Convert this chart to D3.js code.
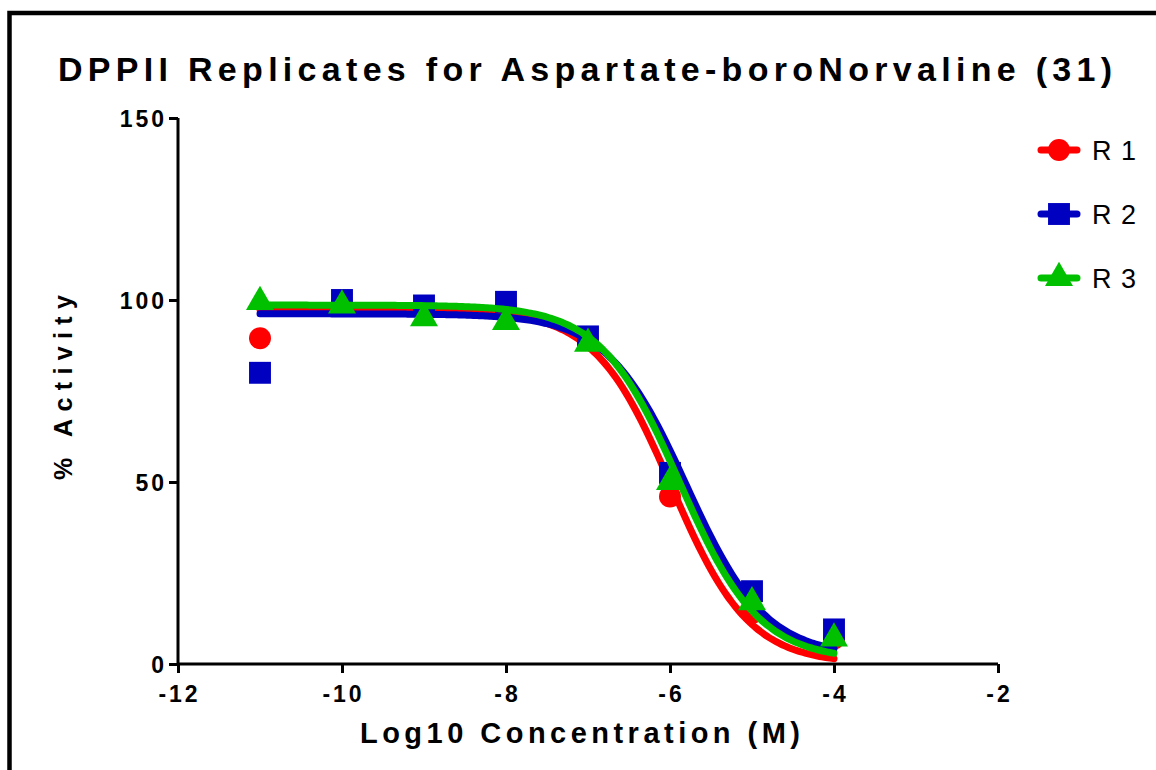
<!DOCTYPE html>
<meta charset="utf-8">
<title>DPPII Replicates</title>
<style>
body { margin: 0; background: white; }
svg text { font-family: 'Liberation Sans', Arial, sans-serif; fill: #000; }
</style>
<svg width="1156" height="770"></svg>
<script src="https://d3js.org/d3.v7.min.js"></script>
<script>
var logConc = [-11, -10, -9, -8, -7, -6, -5, -4];
var seriesNames = ["R 1", "R 2", "R 3"];
var seriesColors = ["#ff0000", "#0000c0", "#00c000"];
var r1 = [89.5, 99, 98, 98, 89, 46, 14, 7];
var r2 = [80, 100, 98.5, 99.5, 90, 52.5, 20, 9.5];
var r3 = [99.5, 98.5, 95, 94, 88, 50, 17, 7];
// four-parameter fit per replicate: top, bottom, logIC50, hill
var fitTop = [97.3, 96.2, 98.6];
var fitBottom = [0, 2, 1];
var fitLogIC50 = [-5.98, -5.8, -5.88];
var fitHill = [0.92, 0.9, 0.9];
var xTicks = [-12, -10, -8, -6, -4, -2];
var yTicks = [0, 50, 100, 150];

var data = [r1, r2, r3];
var svg = d3.select("svg");

// outer frame (right and bottom edges fall outside the picture)
svg.append("rect")
  .attr("x", 9.5).attr("y", 13)
  .attr("width", 1200).attr("height", 800)
  .attr("fill", "none").attr("stroke", "#000").attr("stroke-width", 4.5);

var x = d3.scaleLinear().domain([-12, -2]).range([178, 998]);
var y = d3.scaleLinear().domain([0, 150]).range([664, 118]);

// title
svg.append("text")
  .attr("x", 58).attr("y", 81)
  .attr("font-size", 34).attr("font-weight", "bold")
  .attr("textLength", 1054).attr("lengthAdjust", "spacing")
  .text("DPPII Replicates for Aspartate-boroNorvaline (31)");

// axes
var xAxis = svg.append("g").attr("transform", "translate(0,664)")
  .call(d3.axisBottom(x).tickValues(xTicks).tickSize(9).tickFormat(String));
var yAxis = svg.append("g").attr("transform", "translate(178,0)")
  .call(d3.axisLeft(y).tickValues(yTicks).tickSize(9).tickFormat(String));

[xAxis, yAxis].forEach(function(g) {
  g.select(".domain").attr("stroke", "#000").attr("stroke-width", 3);
  g.selectAll(".tick line").attr("stroke", "#000").attr("stroke-width", 3);
  g.selectAll(".tick text")
    .attr("font-family", "'Liberation Sans', Arial, sans-serif")
    .attr("font-size", 23).attr("font-weight", "bold")
    .attr("letter-spacing", 3).attr("fill", "#000");
});
xAxis.select(".domain").attr("d", "M178,0H998");
yAxis.select(".domain").attr("d", "M0,664V118");
xAxis.selectAll(".tick text").attr("dy", "1.15em").attr("dx", 1);
yAxis.selectAll(".tick text").attr("x", -11).attr("dy", "0.35em");

// axis titles
svg.append("text")
  .attr("x", 360).attr("y", 743)
  .attr("font-size", 29).attr("font-weight", "bold")
  .attr("textLength", 440).attr("lengthAdjust", "spacing")
  .text("Log10 Concentration (M)");

svg.append("text")
  .attr("transform", "translate(72,480) rotate(-90)")
  .attr("font-size", 25).attr("font-weight", "bold")
  .attr("textLength", 185).attr("lengthAdjust", "spacing")
  .text("% Activity");

// fitted curves and points
var samples = d3.range(0, 141).map(function(i) { return -11 + i * 0.05; });

function fitValue(k, xv) {
  return fitBottom[k] + (fitTop[k] - fitBottom[k]) / (1 + Math.pow(10, fitHill[k] * (xv - fitLogIC50[k])));
}

var line = d3.line()
  .x(function(d) { return x(d[0]); })
  .y(function(d) { return y(d[1]); })
  .curve(d3.curveBasis);

var symbols = [d3.symbolCircle, d3.symbolSquare, d3.symbolTriangle];
var symbolSizes = [380, 480, 340];

data.forEach(function(vals, k) {
  svg.append("path")
    .datum(samples.map(function(s) { return [s, fitValue(k, s)]; }))
    .attr("d", line)
    .attr("fill", "none")
    .attr("stroke", seriesColors[k])
    .attr("stroke-width", 7)
    .attr("stroke-linecap", "round");

  svg.append("g").selectAll("path")
    .data(vals)
    .join("path")
      .attr("transform", function(d, i) { return "translate(" + x(logConc[i]) + "," + y(d) + ")"; })
      .attr("d", d3.symbol().type(symbols[k]).size(symbolSizes[k]))
      .attr("fill", seriesColors[k]);
});

// legend
var legend = svg.append("g").selectAll("g")
  .data(seriesNames)
  .join("g")
    .attr("transform", function(d, i) { return "translate(1059," + (150 + i * 64) + ")"; });

legend.append("line")
  .attr("x1", -18).attr("x2", 18)
  .attr("stroke", function(d, i) { return seriesColors[i]; })
  .attr("stroke-width", 7).attr("stroke-linecap", "round");

legend.append("path")
  .attr("d", function(d, i) { return d3.symbol().type(symbols[i]).size(symbolSizes[i])(); })
  .attr("fill", function(d, i) { return seriesColors[i]; });

legend.append("text")
  .attr("x", 33).attr("y", 10)
  .attr("font-size", 27)
  .attr("letter-spacing", 1)
  .text(function(d) { return d; });
</script>
